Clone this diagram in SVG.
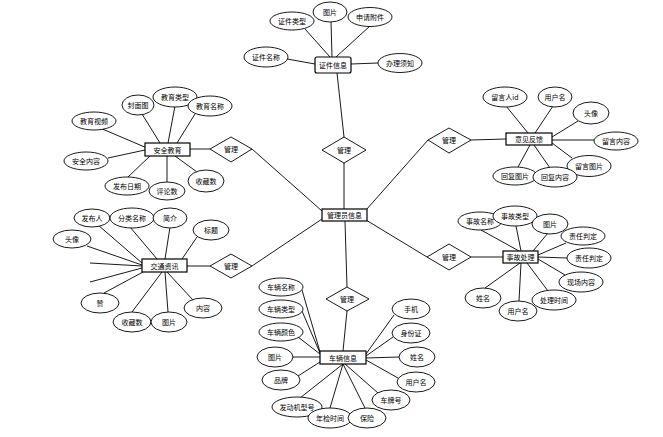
<svg xmlns="http://www.w3.org/2000/svg" width="663" height="437" viewBox="0 0 663 437">
<style>
.e{fill:#fff;stroke:#000;stroke-width:1.2}
.a{fill:#fff;stroke:#000;stroke-width:0.9}
.r{fill:#fff;stroke:#000;stroke-width:0.9}
.c line{stroke:#000;stroke-width:0.9}
text{font-family:"Noto Sans CJK SC","Noto Sans",sans-serif;font-size:7px;fill:#000;text-anchor:middle;dominant-baseline:central}
</style>
<rect width="663" height="437" fill="#fff"/>
<g id="connectors" class="c">
<!-- center links -->
<line x1="337" y1="73" x2="344" y2="137"/>
<line x1="344" y1="163" x2="344" y2="209"/>
<line x1="190" y1="149" x2="210" y2="149"/>
<line x1="252" y1="149" x2="322" y2="211"/>
<line x1="471" y1="140" x2="506" y2="139"/>
<line x1="428" y1="140" x2="366" y2="210"/>
<line x1="187" y1="266" x2="210" y2="266"/>
<line x1="252" y1="266" x2="322" y2="219"/>
<line x1="471" y1="257" x2="504" y2="257"/>
<line x1="427" y1="257" x2="366" y2="220"/>
<line x1="345" y1="221" x2="347" y2="287"/>
<line x1="347" y1="311" x2="343" y2="351"/>
<!-- 证件信息 -->
<line x1="305" y1="29" x2="330" y2="57"/>
<line x1="331" y1="21" x2="332" y2="57"/>
<line x1="370" y1="26" x2="336" y2="57"/>
<line x1="287" y1="59" x2="315" y2="64"/>
<line x1="351" y1="64" x2="378" y2="63"/>
<!-- 安全教育 -->
<line x1="100" y1="128" x2="147" y2="148"/>
<line x1="108" y1="158" x2="145" y2="150"/>
<line x1="142" y1="114" x2="160" y2="143"/>
<line x1="175" y1="106" x2="168" y2="143"/>
<line x1="195" y1="114" x2="177" y2="143"/>
<line x1="128" y1="177" x2="150" y2="156"/>
<line x1="167" y1="182" x2="167" y2="156"/>
<line x1="197" y1="172" x2="175" y2="156"/>
<!-- 意见反馈 -->
<line x1="506" y1="106" x2="528" y2="133"/>
<line x1="553" y1="106" x2="535" y2="133"/>
<line x1="578" y1="121" x2="552" y2="137"/>
<line x1="594" y1="140" x2="552" y2="140"/>
<line x1="572" y1="158" x2="552" y2="143"/>
<line x1="518" y1="167" x2="530" y2="145"/>
<line x1="550" y1="168" x2="534" y2="145"/>
<!-- 交通资讯 -->
<line x1="98" y1="225" x2="142" y2="263"/>
<line x1="130" y1="227" x2="157" y2="259"/>
<line x1="170" y1="227" x2="165" y2="259"/>
<line x1="197" y1="237" x2="182" y2="259"/>
<line x1="87" y1="246" x2="142" y2="265"/>
<line x1="90" y1="263" x2="142" y2="266"/>
<line x1="90" y1="282" x2="142" y2="268"/>
<line x1="104" y1="293" x2="143" y2="272"/>
<line x1="132" y1="312" x2="162" y2="272"/>
<line x1="168" y1="312" x2="165" y2="272"/>
<line x1="193" y1="300" x2="167" y2="272"/>
<!-- 事故处理 -->
<line x1="481" y1="230" x2="519" y2="251"/>
<line x1="516" y1="226" x2="521" y2="251"/>
<line x1="548" y1="233" x2="533" y2="251"/>
<line x1="566" y1="243" x2="538" y2="255"/>
<line x1="567" y1="258" x2="538" y2="257"/>
<line x1="565" y1="275" x2="538" y2="259"/>
<line x1="548" y1="291" x2="527" y2="263"/>
<line x1="519" y1="301" x2="521" y2="263"/>
<line x1="485" y1="288" x2="520" y2="263"/>
<!-- 车辆信息 -->
<line x1="302" y1="290" x2="320" y2="352"/>
<line x1="302" y1="311" x2="320" y2="353"/>
<line x1="298" y1="337" x2="320" y2="354"/>
<line x1="293" y1="357" x2="320" y2="357"/>
<line x1="298" y1="376" x2="320" y2="362"/>
<line x1="300" y1="398" x2="343" y2="364"/>
<line x1="330" y1="408" x2="343" y2="364"/>
<line x1="365" y1="408" x2="343" y2="364"/>
<line x1="378" y1="393" x2="345" y2="364"/>
<line x1="398" y1="378" x2="366" y2="360"/>
<line x1="399" y1="357" x2="366" y2="358"/>
<line x1="393" y1="337" x2="366" y2="356"/>
<line x1="394" y1="315" x2="366" y2="354"/>
</g>

<g id="admin">
<rect class="e" x="322" y="209" width="45" height="12"/>
<text x="344.5" y="215">管理员信息</text>
</g>

<g id="rel-cert"><polygon class="r" points="322,150 344,137 366,150 344,163"/><text x="344" y="150">管理</text></g>
<g id="rel-edu"><polygon class="r" points="210,149 231,137 252,149 231,162"/><text x="231" y="149">管理</text></g>
<g id="rel-feedback"><polygon class="r" points="428,140 449,128 471,140 449,153"/><text x="449" y="140">管理</text></g>
<g id="rel-news"><polygon class="r" points="210,266 231,254 252,266 231,278"/><text x="231" y="266">管理</text></g>
<g id="rel-accident"><polygon class="r" points="427,257 449,244 471,257 449,270"/><text x="449" y="257">管理</text></g>
<g id="rel-vehicle"><polygon class="r" points="326,299 347,287 369,299 347,311"/><text x="347" y="299">管理</text></g>

<g id="cert">
<rect class="e" x="315" y="57" width="36" height="16" rx="2"/>
<text x="333" y="65">证件信息</text>
<ellipse class="a" cx="292" cy="21" rx="22" ry="9"/><text x="292" y="21">证件类型</text>
<ellipse class="a" cx="330" cy="12" rx="17" ry="10"/><text x="330" y="12">图片</text>
<ellipse class="a" cx="370" cy="17" rx="22" ry="9.5"/><text x="370" y="17">申请附件</text>
<ellipse class="a" cx="266" cy="57" rx="22" ry="10"/><text x="266" y="57">证件名称</text>
<ellipse class="a" cx="400" cy="63" rx="22" ry="9.5"/><text x="400" y="63">办理须知</text>
</g>

<g id="edu">
<rect class="e" x="145" y="143" width="45" height="13"/>
<text x="167.5" y="149.5">安全教育</text>
<ellipse class="a" cx="94" cy="121" rx="22" ry="9"/><text x="94" y="121">教育视频</text>
<ellipse class="a" cx="138" cy="105" rx="16" ry="10"/><text x="138" y="105">封面图</text>
<ellipse class="a" cx="175" cy="97" rx="22" ry="10"/><text x="175" y="97">教育类型</text>
<ellipse class="a" cx="210" cy="106" rx="22" ry="10"/><text x="210" y="106">教育名称</text>
<ellipse class="a" cx="86" cy="161" rx="22" ry="9"/><text x="86" y="161">安全内容</text>
<ellipse class="a" cx="127" cy="186" rx="22" ry="9"/><text x="127" y="186">发布日期</text>
<ellipse class="a" cx="167" cy="191" rx="18" ry="9"/><text x="167" y="191">评论数</text>
<ellipse class="a" cx="206" cy="181" rx="18" ry="11"/><text x="206" y="181">收藏数</text>
</g>

<g id="feedback">
<rect class="e" x="506" y="133" width="46" height="12"/>
<text x="529" y="139">意见反馈</text>
<ellipse class="a" cx="505" cy="97" rx="22" ry="10"/><text x="505" y="97">留言人id</text>
<ellipse class="a" cx="555" cy="97" rx="17" ry="10"/><text x="555" y="97">用户名</text>
<ellipse class="a" cx="591" cy="113" rx="18" ry="11"/><text x="591" y="113">头像</text>
<ellipse class="a" cx="616" cy="141" rx="22" ry="9"/><text x="616" y="141">留言内容</text>
<ellipse class="a" cx="589" cy="166" rx="22" ry="10.5"/><text x="589" y="166">留言图片</text>
<ellipse class="a" cx="515" cy="176" rx="22" ry="9"/><text x="515" y="176">回复图片</text>
<ellipse class="a" cx="555" cy="177" rx="22" ry="10"/><text x="555" y="177">回复内容</text>
</g>

<g id="news">
<rect class="e" x="142" y="259" width="45" height="13"/>
<text x="164.5" y="265.5">交通资讯</text>
<ellipse class="a" cx="92" cy="218" rx="18" ry="9"/><text x="92" y="218">发布人</text>
<ellipse class="a" cx="132" cy="218" rx="22" ry="10"/><text x="132" y="218">分类名称</text>
<ellipse class="a" cx="170" cy="218" rx="17" ry="10"/><text x="170" y="218">简介</text>
<ellipse class="a" cx="211" cy="230" rx="18" ry="10"/><text x="211" y="230">标题</text>
<ellipse class="a" cx="72" cy="239" rx="19" ry="9"/><text x="72" y="239">头像</text>
<ellipse class="a" cx="100" cy="303" rx="19" ry="10"/><text x="100" y="303">赞</text>
<ellipse class="a" cx="132" cy="322" rx="19" ry="10"/><text x="132" y="322">收藏数</text>
<ellipse class="a" cx="169" cy="322" rx="18" ry="10"/><text x="169" y="322">图片</text>
<ellipse class="a" cx="203" cy="308" rx="19" ry="10"/><text x="203" y="308">内容</text>
</g>

<g id="accident">
<rect class="e" x="503" y="251" width="35" height="12"/>
<text x="520.5" y="257">事故处理</text>
<ellipse class="a" cx="480" cy="221" rx="22" ry="9"/><text x="480" y="221">事故名称</text>
<ellipse class="a" cx="515" cy="216" rx="22" ry="10"/><text x="515" y="216">事故类型</text>
<ellipse class="a" cx="550" cy="224" rx="18" ry="10"/><text x="550" y="224">图片</text>
<ellipse class="a" cx="583" cy="236" rx="22" ry="9"/><text x="583" y="236">责任判定</text>
<ellipse class="a" cx="589" cy="258" rx="22" ry="10"/><text x="589" y="258">责任判定</text>
<ellipse class="a" cx="581" cy="282" rx="22" ry="10"/><text x="581" y="282">现场内容</text>
<ellipse class="a" cx="554" cy="300" rx="22" ry="10"/><text x="554" y="300">处理时间</text>
<ellipse class="a" cx="518" cy="311" rx="19" ry="10"/><text x="518" y="311">用户名</text>
<ellipse class="a" cx="483" cy="298" rx="18" ry="10"/><text x="483" y="298">姓名</text>
</g>

<g id="vehicle">
<rect class="e" x="320" y="351" width="46" height="13"/>
<text x="343" y="357.5">车辆信息</text>
<ellipse class="a" cx="281" cy="287" rx="22" ry="9"/><text x="281" y="287">车辆名称</text>
<ellipse class="a" cx="281" cy="309" rx="22" ry="9"/><text x="281" y="309">车辆类型</text>
<ellipse class="a" cx="281" cy="332" rx="22" ry="9"/><text x="281" y="332">车辆颜色</text>
<ellipse class="a" cx="275" cy="357" rx="18" ry="10"/><text x="275" y="357">图片</text>
<ellipse class="a" cx="281" cy="380" rx="19" ry="10"/><text x="281" y="380">品牌</text>
<ellipse class="a" cx="297" cy="407" rx="25" ry="10"/><text x="297" y="407">发动机型号</text>
<ellipse class="a" cx="330" cy="418" rx="22" ry="10"/><text x="330" y="418">年检时间</text>
<ellipse class="a" cx="367" cy="418" rx="19" ry="10"/><text x="367" y="418">保险</text>
<ellipse class="a" cx="391" cy="400" rx="19" ry="10"/><text x="391" y="400">车牌号</text>
<ellipse class="a" cx="416" cy="382" rx="19" ry="10"/><text x="416" y="382">用户名</text>
<ellipse class="a" cx="417" cy="357" rx="18" ry="10"/><text x="417" y="357">姓名</text>
<ellipse class="a" cx="411" cy="333" rx="19" ry="10"/><text x="411" y="333">身份证</text>
<ellipse class="a" cx="411" cy="309" rx="19" ry="10"/><text x="411" y="309">手机</text>
</g>
</svg>
